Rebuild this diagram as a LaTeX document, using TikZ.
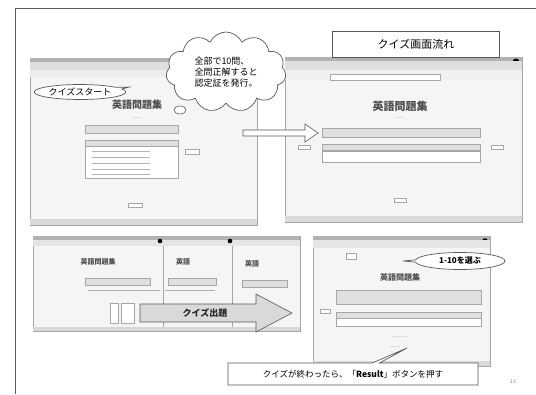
\documentclass[tikz,border=0pt]{standalone}
\usepackage{fontspec}
\setmainfont{Noto Sans CJK JP}
\usetikzlibrary{shapes.symbols,shapes.geometric,shapes.callouts}
\tikzset{
  win/.style={draw=gray!70, fill=gray!8, line width=0.6pt},
  tbl/.style={draw=gray!70, fill=white, line width=0.4pt},
  tblhead/.style={draw=gray!70, fill=gray!25, line width=0.4pt},
  head/.style={font=\fontsize{10}{11}\selectfont\bfseries, text=gray!60!black},
  tiny/.style={font=\fontsize{3}{3.5}\selectfont, text=gray!70!black},
  frameline/.style={draw=gray!70!black, line width=0.9pt}
}
\begin{document}
\begin{tikzpicture}[x=1pt,y=-1pt]
\useasboundingbox (0,0) rectangle (536,394);
\fill[white] (0,0) rectangle (536,394);
% slide frame
\draw[frameline] (15,394) -- (15,8) -- (536,8);

% ---------- screenshot 1 ----------
\node[win, anchor=north west, minimum width=227pt, minimum height=167pt, inner sep=0] (w1) at (30,58) {};
\fill[gray!60] (30,58) rectangle (257,62);
\fill[gray!25] (30,62) rectangle (257,70);
\fill[gray!15] (30,70) rectangle (257,77);
\node[head] (h1) at (137,105) {英語問題集};
\node[tiny] (s1) at (137,118) {— — —};
\node[tblhead, anchor=north west, minimum width=93pt, minimum height=8pt, inner sep=0] (t1a) at (85,125) {};
\node[tblhead, anchor=north west, minimum width=93pt, minimum height=6pt, inner sep=0] (t1b) at (85,140) {};
\node[tbl, anchor=north west, minimum width=93pt, minimum height=32pt, inner sep=0] (t1c) at (85,146) {};
\foreach \yy in {151,157,163,169,174} {\draw[gray!60, line width=0.8pt] (92,\yy) -- (150,\yy);}
\node[tbl, minimum width=14pt, minimum height=5pt, inner sep=0] (b1) at (192,152) {};
\node[tbl, minimum width=14pt, minimum height=4pt, inner sep=0] (b1b) at (135,205) {};
\fill[gray!30] (30,219) rectangle (257,225);

% ---------- screenshot 2 ----------
\node[win, anchor=north west, minimum width=237pt, minimum height=165pt, inner sep=0] (w2) at (285,57) {};
\fill[gray!60] (285,57) rectangle (522,61);
\fill[black] (516,62) circle (3.5pt);
\fill[gray!25] (285,61) rectangle (522,70);
\fill[gray!12] (285,70) rectangle (522,80);
\node[tbl, anchor=north west, minimum width=110pt, minimum height=6pt, inner sep=0] (u2) at (330,74) {};
\node[head, font=\fontsize{11}{12}\selectfont\bfseries] (h2) at (400,106) {英語問題集};
\node[tiny] (s2) at (400,118) {— — —};
\node[tblhead, anchor=north west, minimum width=158pt, minimum height=9pt, inner sep=0] (t2a) at (322,128) {};
\node[tblhead, anchor=north west, minimum width=158pt, minimum height=6pt, inner sep=0] (t2b) at (322,144) {};
\node[tbl, anchor=north west, minimum width=158pt, minimum height=11pt, inner sep=0] (t2c) at (322,151) {};
\node[tbl, minimum width=12pt, minimum height=4pt, inner sep=0] (l2) at (304,147) {};
\node[tbl, minimum width=12pt, minimum height=4pt, inner sep=0] (r2) at (497,147) {};
\node[tbl, minimum width=12pt, minimum height=4pt, inner sep=0] (b2) at (400,200) {};
\fill[gray!30] (285,216) rectangle (522,222);

% hollow arrow between top screenshots
\draw[draw=gray!70!black, fill=white, line width=0.6pt]
  (243,130) -- (305,130) -- (305,124) -- (318,133) -- (305,142) -- (305,136) -- (243,136) -- cycle;

% title box
\node[draw=gray!70!black, fill=white, minimum width=167pt, minimum height=26pt, line width=0.6pt,
      font=\fontsize{11}{12}\selectfont] (title) at (416,44) {クイズ画面流れ};

% cloud
\node[cloud, cloud puffs=11, cloud puff arc=130, aspect=1.5, draw=gray!70!black, fill=white,
      line width=0.7pt, inner sep=0pt, minimum width=120pt, minimum height=80pt,
      align=left, font=\fontsize{9}{11}\selectfont] (cl) at (226,72)
      {全部で10問、\\全問正解すると\\認定証を発行。};
\node[ellipse, draw=gray!70!black, fill=white, minimum width=12pt, minimum height=8pt, inner sep=0, line width=0.6pt] (cb1) at (180,110) {};

% start callout
\node[ellipse callout, callout relative pointer={(10pt,1pt)}, draw=gray!70!black, fill=white, line width=0.7pt,
      minimum width=84pt, minimum height=15pt, inner sep=1pt,
      font=\fontsize{9}{10}\selectfont] (start) at (80,92) {クイズスタート};

% ---------- bottom-left screenshots ----------
\node[win, anchor=north west, minimum width=132pt, minimum height=95pt, inner sep=0] (w3) at (33,236) {};
\node[win, anchor=north west, minimum width=72pt, minimum height=95pt, inner sep=0] (w4) at (163,236) {};
\node[win, anchor=north west, minimum width=68pt, minimum height=95pt, inner sep=0] (w5) at (232,236) {};
\foreach \xa/\xb in {33/163,163/232,232/300} {
  \fill[gray!60] (\xa,236) rectangle (\xb,240);
  \fill[gray!20] (\xa,240) rectangle (\xb,246);
  \fill[gray!30] (\xa,327) rectangle (\xb,331);
}
\fill[black] (160,241) circle (2.3pt);
\fill[black] (230,241) circle (2.3pt);
\node[head, font=\fontsize{7}{8}\selectfont\bfseries] (h3) at (98,262) {英語問題集};
\node[head, font=\fontsize{7}{8}\selectfont\bfseries] (h4) at (183,262) {英語};
\node[head, font=\fontsize{7}{8}\selectfont\bfseries] (h5) at (252,264) {英語};
\node[tblhead, anchor=north west, minimum width=65pt, minimum height=7pt, inner sep=0] (t3a) at (85,278) {};
\draw[gray!60, line width=0.8pt] (88,290) -- (160,290);
\node[tblhead, anchor=north west, minimum width=48pt, minimum height=7pt, inner sep=0] (t4a) at (168,278) {};
\draw[gray!60, line width=0.8pt] (165,290) -- (215,290);
\node[tblhead, anchor=north west, minimum width=45pt, minimum height=7pt, inner sep=0] (t5a) at (242,280) {};
\node[tbl, minimum width=8pt, minimum height=20pt, inner sep=0] (sb1) at (114,313) {};
\node[tbl, minimum width=13pt, minimum height=20pt, inner sep=0] (sb2) at (128,313) {};
% big arrow
\draw[draw=gray!70!black, fill=gray!30, line width=0.6pt]
  (140,304) -- (256,304) -- (256,294) -- (292,313) -- (256,332) -- (256,322) -- (140,322) -- cycle;
\node[font=\fontsize{9}{10}\selectfont\bfseries, text=black!85] (bal) at (205,313) {クイズ出題};

% ---------- bottom-right screenshot ----------
\node[win, anchor=north west, minimum width=177pt, minimum height=130pt, inner sep=0] (w6) at (313,236) {};
\fill[gray!60] (313,236) rectangle (490,240);
\fill[black] (485,241) circle (2.8pt);
\fill[gray!20] (313,240) rectangle (490,248);
\node[tbl, anchor=north west, minimum width=10pt, minimum height=6pt, inner sep=0] (u6) at (346,253) {};
\node[head, font=\fontsize{8}{9}\selectfont\bfseries] (h6) at (400,277) {英語問題集};
\node[tblhead, anchor=north west, minimum width=145pt, minimum height=14pt, inner sep=0] (t6a) at (336,290) {};
\node[tblhead, anchor=north west, minimum width=145pt, minimum height=6pt, inner sep=0] (t6b) at (336,312) {};
\node[tbl, anchor=north west, minimum width=145pt, minimum height=8pt, inner sep=0] (t6c) at (336,318) {};
\node[tbl, minimum width=10pt, minimum height=4pt, inner sep=0] (l6) at (325,311) {};
\node[tiny] (x6a) at (400,337) {— — — — —};
\node[tiny] (x6b) at (395,347) {— — —};
\fill[gray!30] (313,361) rectangle (490,366);

% select callout
\node[ellipse callout, callout relative pointer={(-12pt,0pt)}, draw=gray!70!black, fill=white, line width=0.7pt,
      minimum width=90pt, minimum height=17pt, inner sep=1pt,
      font=\fontsize{8}{9}\selectfont\bfseries] (sel) at (460,261) {1-10を選ぶ};

% bottom note box with pointer
\node[rectangle callout, callout absolute pointer={(407,348)}, draw=gray!70!black, fill=white, line width=0.7pt,
      minimum width=250pt, minimum height=22pt, inner sep=1pt,
      font=\fontsize{8.5}{10}\selectfont] (nb) at (353,374)
      {クイズが終わったら、「\textbf{Result}」ボタンを押す};

\node[font=\fontsize{5}{6}\selectfont, text=gray] (pg) at (513,382) {10};
\end{tikzpicture}
\end{document}
